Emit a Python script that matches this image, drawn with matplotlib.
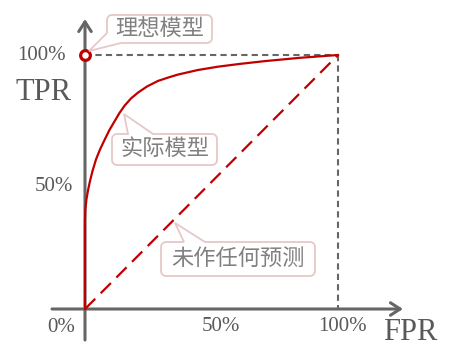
import numpy as np
import matplotlib
matplotlib.use('Agg')
import matplotlib.pyplot as plt
from matplotlib.patches import Polygon

# ROC curve
fpr = [0, 0, 0.0012, 0.0059, 0.0119, 0.0198, 0.0296, 0.0435, 0.0593, 0.0779,
       0.0968, 0.1174, 0.1364, 0.1569, 0.1818, 0.2095, 0.2451, 0.2885, 0.3281,
       0.3676, 0.4466, 0.5257, 0.6126, 0.7115, 0.8498, 1.0]
tpr = [0, 0.350, 0.390, 0.433, 0.467, 0.504, 0.543, 0.589, 0.628, 0.667,
       0.705, 0.740, 0.772, 0.801, 0.829, 0.852, 0.876, 0.898, 0.911,
       0.923, 0.941, 0.954, 0.965, 0.976, 0.989, 1.0]
diag = [0, 1]
ideal = (0, 1)

y_ticks = ['100%', '50%']
x_ticks = ['0%', '50%', '100%']
notes = ['理想模型', '实际模型', '未作任何预测']

RED = '#c00000'
GRAY = '#666666'
TXT = '#595959'
PINK = '#e6c8c8'
NOTE_TXT = '#808080'

W, H = 451, 357
# pixel (from top-left) -> data
def pd_(px, py):
    return ((px - 85) / 253.0, (309 - py) / 254.0)


def arc(cx, cy, r, t0, t1, n=8):
    t = np.radians(np.linspace(t0, t1, n))
    return list(zip(cx + r * np.cos(t), cy + r * np.sin(t)))


def callout(ax, box, ptr, text, r=5):
    # box in pixels: x0, ytop, x1, ybottom ; work in y-up pixel space
    x0, yt, x1, yb = box[0], H - box[1], box[2], H - box[3]
    kind, a, b, tip = ptr
    tip = (tip[0], H - tip[1])
    pts = arc(x0 + r, yt - r, r, 180, 90)
    if kind == 'top':
        pts += [(a, yt), tip, (b, yt)]
    pts += arc(x1 - r, yt - r, r, 90, 0)
    pts += arc(x1 - r, yb + r, r, 0, -90)
    if kind == 'bl':
        # pointer replaces the bottom-left corner
        pts += [(b, yb), tip, (x0, H - a)]
    else:
        pts += arc(x0 + r, yb + r, r, -90, -180)
    pts = [pd_(x, H - y) for x, y in pts]
    ax.add_patch(Polygon(pts, closed=True, fc='white', ec=PINK, lw=1.3, zorder=5))
    cx, cy = pd_((box[0] + box[2]) / 2.0, (box[1] + box[3]) / 2.0 - 1)
    ax.text(cx, cy, text, ha='center', va='center', fontsize=16,
            color=NOTE_TXT, family=['Noto Sans CJK SC', 'DejaVu Sans'], zorder=6)


fig = plt.figure(figsize=(W / 100, H / 100), dpi=100)
ax = fig.add_axes([0, 0, 1, 1])
ax.set_xlim(pd_(0, 0)[0], pd_(W, 0)[0])
ax.set_ylim(pd_(0, H)[1], pd_(0, 0)[1])
ax.axis('off')

# axes with arrows
arw = dict(arrowstyle='->,head_length=0.7,head_width=0.45', lw=2.2,
           color=GRAY, shrinkA=0, shrinkB=0)
ax.annotate('', xy=pd_(403, 309), xytext=pd_(52, 309), arrowprops=arw, zorder=2)
ax.annotate('', xy=pd_(85, 19), xytext=pd_(85, 340), arrowprops=arw, zorder=2)

# guide lines to (1,1)
ax.plot([0, 1], [1, 1], color=GRAY, lw=1.5, dashes=(3, 2), zorder=1)
ax.plot([1, 1], [1, 0], color=GRAY, lw=1.5, dashes=(3, 2), zorder=1)

# random guess diagonal and the ROC curve
ax.plot(diag, diag, color=RED, lw=1.6, dashes=(6.5, 3.5), zorder=3)
ax.plot(fpr, tpr, color=RED, lw=1.6, zorder=3, solid_joinstyle='round')
ax.plot(*ideal, 'o', ms=7, mfc='white', mec=RED, mew=2.3, zorder=4)

# labels
serif = 'Liberation Serif'
ax.text(*pd_(41.7, 56), y_ticks[0], ha='center', va='center', fontsize=15, color=TXT, family=serif)
ax.text(*pd_(53.4, 186.5), y_ticks[1], ha='center', va='center', fontsize=15, color=TXT, family=serif)
ax.text(*pd_(61.5, 327), x_ticks[0], ha='center', va='center', fontsize=15, color=TXT, family=serif)
ax.text(*pd_(221, 326.5), x_ticks[1], ha='center', va='center', fontsize=15, color=TXT, family=serif)
ax.text(*pd_(342.5, 326.5), x_ticks[2], ha='center', va='center', fontsize=15, color=TXT, family=serif)
ax.text(*pd_(43.5, 93), 'TPR', ha='center', va='center', fontsize=22, color=TXT, family=serif)
ax.text(*pd_(410, 333), 'FPR', ha='center', va='center', fontsize=22, color=TXT, family=serif)

# callouts
callout(ax, (107, 15, 212, 43), ('bl', 33, 121, (89, 51)), notes[0])
callout(ax, (112, 134, 217, 165), ('top', 128, 153, (124, 114)), notes[1])
callout(ax, (161, 242, 315, 276), ('top', 184, 205, (175, 223)), notes[2])

fig.savefig('out.png', dpi=100)
